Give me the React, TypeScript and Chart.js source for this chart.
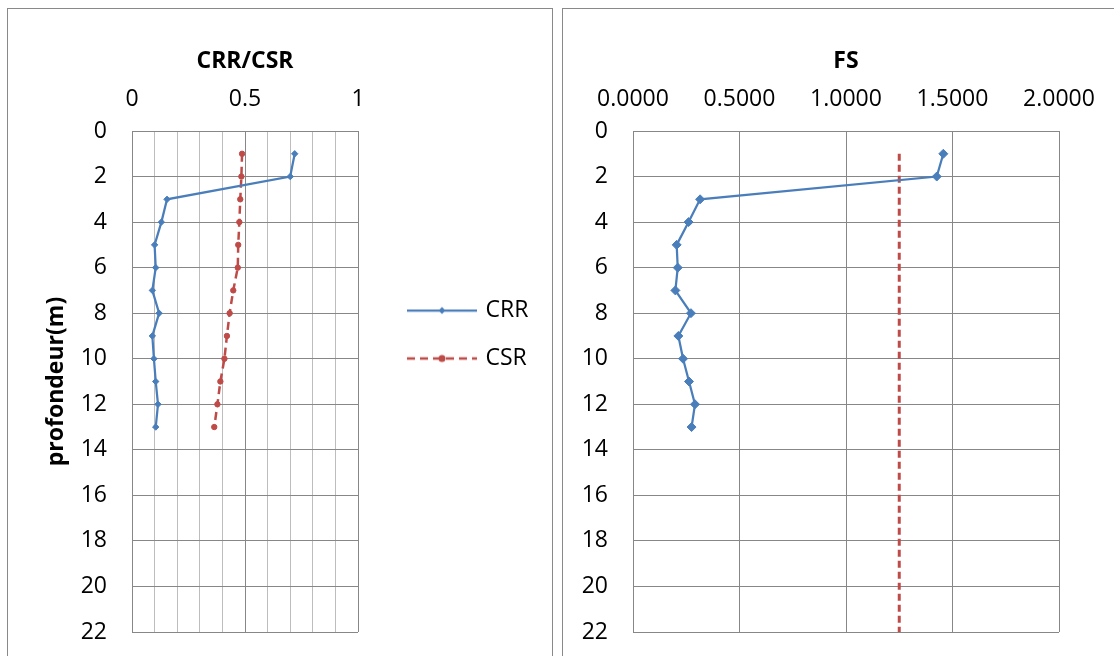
import React, { useEffect, useRef } from 'react';
import { Chart, registerables } from 'chart.js';

Chart.register(...registerables);

// ---------- data ----------
const depths = [1, 2, 3, 4, 5, 6, 7, 8, 9, 10, 11, 12, 13];
const crrValues = [0.72, 0.7, 0.155, 0.13, 0.1, 0.105, 0.09, 0.12, 0.09, 0.097, 0.105, 0.115, 0.105];
const csrValues = [0.487, 0.484, 0.479, 0.475, 0.47, 0.468, 0.448, 0.432, 0.42, 0.409, 0.391, 0.378, 0.364];
const fsValues = [1.457, 1.426, 0.315, 0.261, 0.205, 0.21, 0.199, 0.272, 0.213, 0.235, 0.263, 0.291, 0.275];
const fsLimitValue = 1.25;
const fsLimitDepths = [1, 22];

const depthTickLabels = ['0', '2', '4', '6', '8', '10', '12', '14', '16', '18', '20', '22'];
const ratioTickLabels = ['0', '0.5', '1'];
const fsTickLabels = ['0.0000', '0.5000', '1.0000', '1.5000', '2.0000'];

const seriesNames = ['CRR', 'CSR'];
const leftTitle = 'CRR/CSR';
const rightTitle = 'FS';
const depthTitle = 'profondeur(m)';

// ---------- styles ----------
const BLUE = '#4A7EBB';
const RED = '#BE4B48';
const GRID = '#878787';
const MINOR = '#BDBDBD';
const FAMILY = "'Open Sans', sans-serif";
const FONT_SIZE = 23;

Chart.defaults.font.family = FAMILY;
Chart.defaults.color = '#000';

function legendSample(color: string, dashed: boolean, marker: 'diamond' | 'circle'): HTMLCanvasElement {
  const c = document.createElement('canvas');
  c.width = 70;
  c.height = 12;
  const g = c.getContext('2d') as CanvasRenderingContext2D;
  g.strokeStyle = color;
  g.lineWidth = dashed ? 2.5 : 2.25;
  if (dashed) g.setLineDash([8, 5]);
  g.beginPath();
  g.moveTo(0, 6);
  g.lineTo(70, 6);
  g.stroke();
  g.setLineDash([]);
  g.fillStyle = color;
  g.beginPath();
  if (marker === 'diamond') {
    g.moveTo(35, 2.5);
    g.lineTo(38.5, 6);
    g.lineTo(35, 9.5);
    g.lineTo(31.5, 6);
    g.closePath();
  } else {
    g.arc(35, 6, 3.5, 0, Math.PI * 2);
  }
  g.fill();
  return c;
}

const isHalf = (v: number) => Math.abs(v * 2 - Math.round(v * 2)) < 1e-6;

export default function App() {
  const leftRef = useRef<HTMLCanvasElement | null>(null);
  const rightRef = useRef<HTMLCanvasElement | null>(null);

  useEffect(() => {
    if (!leftRef.current || !rightRef.current) return;
    const legendImgs = [legendSample(BLUE, false, 'diamond'), legendSample(RED, true, 'circle')];

    // legend geometry: keep the plot area right edge fixed whatever the text width is
    const LEG_PAD = 25;
    const LEG_BOX = 64;
    const GAP = 27;
    const mctx = document.createElement('canvas').getContext('2d') as CanvasRenderingContext2D;
    mctx.font = `normal ${FONT_SIZE}px ${FAMILY}`;
    const textW = Math.max(...seriesNames.map((s) => mctx.measureText(s).width));
    const legendW = LEG_PAD + LEG_BOX + FONT_SIZE / 2 + textW + 10;
    const leftPadRight = Math.max(0, 544 - 350 - GAP - legendW);

    const left = new Chart(leftRef.current, {
      type: 'scatter',
      data: {
        datasets: [
          {
            label: seriesNames[0],
            data: depths.map((d, i) => ({ x: crrValues[i], y: d })),
            showLine: true,
            borderColor: BLUE,
            backgroundColor: BLUE,
            borderWidth: 2.25,
            pointStyle: 'rectRot',
            pointRadius: 3.2,
            pointBorderWidth: 1,
            pointBackgroundColor: BLUE,
            pointBorderColor: BLUE,
          },
          {
            label: seriesNames[1],
            data: depths.map((d, i) => ({ x: csrValues[i], y: d })),
            showLine: true,
            borderColor: RED,
            backgroundColor: RED,
            borderWidth: 2.5,
            borderDash: [8, 5],
            pointStyle: 'circle',
            pointRadius: 2.7,
            pointBorderWidth: 1,
            pointBackgroundColor: RED,
            pointBorderColor: RED,
          },
        ],
      },
      options: {
        responsive: false,
        animation: false,
        devicePixelRatio: 1,
        layout: { padding: { left: 30.6, top: 28, right: leftPadRight, bottom: 39 } },
        plugins: {
          tooltip: { enabled: false },
          title: {
            display: true,
            text: leftTitle,
            fullSize: false,
            color: '#000',
            font: { family: FAMILY, size: FONT_SIZE, weight: 'bold' },
            padding: { top: 11, bottom: 0 },
          },
          legend: {
            display: true,
            position: 'right',
            align: 'center',
            maxWidth: 1000,
            labels: {
              usePointStyle: true,
              pointStyleWidth: LEG_BOX,
              padding: LEG_PAD,
              color: '#000',
              font: { family: FAMILY, size: FONT_SIZE },
              generateLabels: (chart: any) =>
                Chart.defaults.plugins.legend.labels
                  .generateLabels(chart)
                  .map((l: any, i: number) => ({ ...l, pointStyle: legendImgs[i] })),
            },
          },
        },
        scales: {
          x: {
            type: 'linear',
            position: 'top',
            min: 0,
            max: 1,
            ticks: {
              stepSize: 0.1,
              autoSkip: false,
              maxRotation: 0,
              padding: 18,
              color: '#000',
              font: { family: FAMILY, size: FONT_SIZE },
              callback: (v: any) => (isHalf(v) ? ratioTickLabels[Math.round(v * 2)] : ''),
            },
            grid: {
              color: (ctx: any) => (ctx.tick && isHalf(ctx.tick.value) ? GRID : MINOR),
              lineWidth: 1,
              drawTicks: false,
            },
            border: { color: GRID },
            afterFit: (s: any) => {
              s.height = 55.4;
            },
          },
          y: {
            type: 'linear',
            position: 'left',
            reverse: true,
            min: 0,
            max: 22,
            ticks: {
              stepSize: 2,
              padding: 25,
              color: '#000',
              font: { family: FAMILY, size: FONT_SIZE },
              callback: (v: any) => depthTickLabels[Math.round(v / 2)],
            },
            grid: { color: GRID, lineWidth: 1, drawTicks: false },
            border: { color: GRID },
            title: {
              display: true,
              text: depthTitle,
              color: '#000',
              font: { family: FAMILY, size: FONT_SIZE, weight: 'bold' },
              padding: { top: 4, bottom: 4 },
            },
            afterFit: (s: any) => {
              s.width = 93.4;
            },
          },
          gap: {
            type: 'linear',
            position: 'right',
            display: true,
            grid: { display: false, drawTicks: false },
            border: { display: false },
            ticks: { display: false },
            afterFit: (s: any) => {
              s.width = GAP;
            },
          },
        },
      } as any,
    });

    const right = new Chart(rightRef.current, {
      type: 'scatter',
      data: {
        datasets: [
          {
            label: rightTitle,
            data: depths.map((d, i) => ({ x: fsValues[i], y: d })),
            showLine: true,
            borderColor: BLUE,
            backgroundColor: BLUE,
            borderWidth: 2.25,
            pointStyle: 'rectRot',
            pointRadius: 4.5,
            pointBorderWidth: 1,
            pointBackgroundColor: BLUE,
            pointBorderColor: BLUE,
          },
          {
            label: 'FS limite',
            data: fsLimitDepths.map((d) => ({ x: fsLimitValue, y: d })),
            showLine: true,
            borderColor: RED,
            backgroundColor: RED,
            borderWidth: 3,
            borderDash: [7, 4],
            pointRadius: 0,
          },
        ],
      },
      options: {
        responsive: false,
        animation: false,
        devicePixelRatio: 1,
        layout: { padding: { left: 0, top: 28, right: 55, bottom: 39 } },
        plugins: {
          tooltip: { enabled: false },
          legend: { display: false },
          title: {
            display: true,
            text: rightTitle,
            fullSize: false,
            color: '#000',
            font: { family: FAMILY, size: FONT_SIZE, weight: 'bold' },
            padding: { top: 11, bottom: 0 },
          },
        },
        scales: {
          x: {
            type: 'linear',
            position: 'top',
            min: 0,
            max: 2,
            ticks: {
              stepSize: 0.5,
              autoSkip: false,
              maxRotation: 0,
              padding: 18,
              color: '#000',
              font: { family: FAMILY, size: FONT_SIZE },
              callback: (v: any) => fsTickLabels[Math.round(v * 2)],
            },
            grid: { color: GRID, lineWidth: 1, drawTicks: false },
            border: { color: GRID },
            afterFit: (s: any) => {
              s.height = 55.4;
            },
          },
          y: {
            type: 'linear',
            position: 'left',
            reverse: true,
            min: 0,
            max: 22,
            ticks: {
              stepSize: 2,
              padding: 25,
              color: '#000',
              font: { family: FAMILY, size: FONT_SIZE },
              callback: (v: any) => depthTickLabels[Math.round(v / 2)],
            },
            grid: { color: GRID, lineWidth: 1, drawTicks: false },
            border: { color: GRID },
            afterFit: (s: any) => {
              s.width = 70;
            },
          },
        },
      } as any,
    });

    return () => {
      left.destroy();
      right.destroy();
    };
  }, []);

  return (
    <div
      style={{
        position: 'fixed',
        left: 0,
        top: 0,
        width: 1114,
        height: 656,
        overflow: 'hidden',
        background: '#fff',
      }}
    >
      <div
        style={{
          position: 'absolute',
          left: 7,
          top: 8,
          width: 546,
          height: 700,
          border: '1px solid #898989',
          boxSizing: 'border-box',
        }}
      />
      <canvas ref={leftRef} width={544} height={662} style={{ position: 'absolute', left: 8, top: 9 }} />
      <div
        style={{
          position: 'absolute',
          left: 562,
          top: 8,
          width: 600,
          height: 700,
          border: '1px solid #898989',
          boxSizing: 'border-box',
        }}
      />
      <canvas ref={rightRef} width={551} height={662} style={{ position: 'absolute', left: 563, top: 9 }} />
    </div>
  );
}
